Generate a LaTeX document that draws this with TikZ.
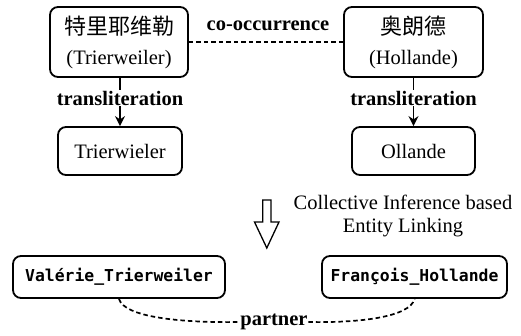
\documentclass[tikz,border=0pt]{standalone}
\usepackage{fontspec}
\setmainfont{Liberation Serif}
\setmonofont{DejaVu Sans Mono}
\newfontfamily\cjk{Noto Sans CJK SC}
\usetikzlibrary{arrows.meta}
\tikzset{
  box/.style={draw, line width=1.8pt, rounded corners=8pt, align=center, inner sep=0pt},
  lbl/.style={font=\fontsize{20.5}{24}\selectfont\bfseries, fill=white, inner sep=1pt},
  plain/.style={font=\fontsize{20.5}{23}\selectfont, align=center},
  dsh/.style={line width=1.7pt, dash pattern=on 4.5pt off 3pt},
  arr/.style={line width=1.7pt, -{Stealth[length=10pt,width=10pt]}},
  ent/.style={box, font=\fontsize{16.4}{20}\selectfont\ttfamily\bfseries},
}
\begin{document}
\begin{tikzpicture}[x=1pt,y=-1pt]
\useasboundingbox (0,0) rectangle (521,336);
\node[box, minimum width=138pt, minimum height=70pt, font=\fontsize{20.5}{30}\selectfont] (m1) at (119,42)
  {{\cjk\fontsize{22}{30}\selectfont 特里耶维勒}\\(Trierweiler)};
\node[box, minimum width=139pt, minimum height=70pt, font=\fontsize{20.5}{30}\selectfont] (m2) at (413.5,42)
  {{\cjk\fontsize{22}{30}\selectfont 奥朗德}\\(Hollande)};
\node[box, minimum width=124pt, minimum height=48pt, font=\fontsize{20.5}{24}\selectfont] (t1) at (120,151) {Trierwieler};
\node[box, minimum width=123pt, minimum height=48pt, font=\fontsize{20.5}{24}\selectfont] (t2) at (413.5,151) {Ollande};
\draw[dsh] (m1) -- (m2);
\node[lbl, fill=none] (co) at (268,26) {co-occurrence};
\draw[arr] (m1.south -| t1.north) -- node[lbl, pos=0.42] (tl1) {transliteration} (t1.north);
\draw[arr] (m2.south -| t2.north) -- node[lbl, pos=0.42] (tl2) {transliteration} (t2.north);
\draw[line width=1.3pt, line join=miter] (262.7,200) -- (271,200) -- (271,222) -- (279,222) -- (266.8,248) -- (254.5,222) -- (262.7,222) -- cycle;
\node[plain] (cil) at (403,216) {Collective Inference based\\Entity Linking};
\node[ent, minimum width=212pt, minimum height=42pt] (v) at (119,277) {Valérie\_Trierweiler};
\node[ent, minimum width=185pt, minimum height=42pt] (f) at (414.5,277) {François\_Hollande};
\node[lbl, fill=none, inner sep=0.5pt] (p) at (274,322) {partner};
\draw[dsh] (v.south) .. controls (124,317) and (180,323) .. (p.west);
\draw[dsh] (p.east) .. controls (360,323) and (410,317) .. (f.south);
\end{tikzpicture}
\end{document}
